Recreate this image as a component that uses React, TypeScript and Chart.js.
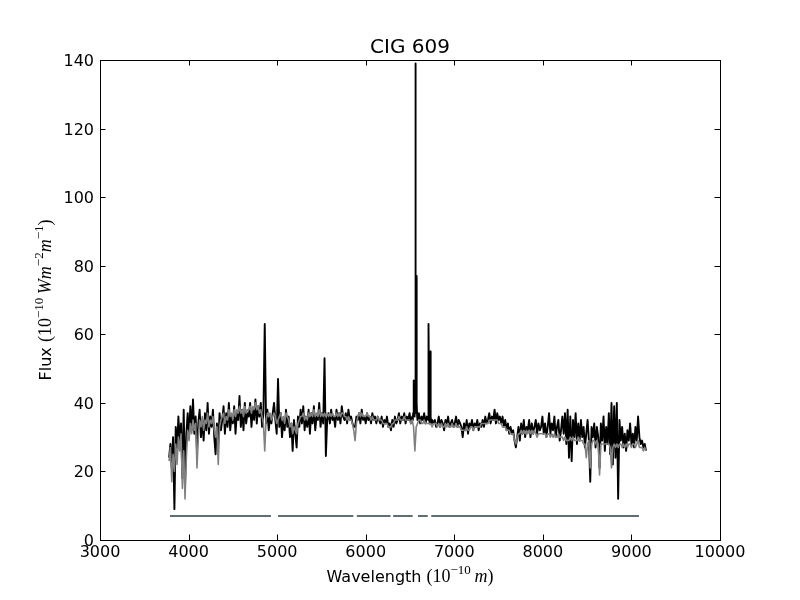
import { useRef, useEffect } from 'react';
import { Chart, registerables } from 'chart.js';

Chart.register(...registerables);

// sampling grid of the spectrum (Angstrom)
const waveStart = 3780;
const waveStep = 15;

// observed flux (black)
const observedFlux = [
  24, 28, 21, 30, 9, 33, 27, 36, 29, 34, 18, 38, 16, 31, 37, 30, 39, 32, 41, 31,
  36, 26, 34, 38, 30, 35, 29, 37, 32, 40, 31, 36, 33, 38, 30, 25, 34, 28, 37, 32,
  35, 39, 31, 37, 33, 40, 32, 36, 34, 39, 31, 37, 35, 42, 33, 38, 32, 40, 34, 37,
  36, 40, 33, 38, 35, 41, 34, 39, 36, 40, 33, 37, 63, 34, 38, 32, 36, 34, 37, 40,
  35, 31, 47, 33, 37, 30, 35, 32, 38, 33, 36, 30, 34, 26, 35, 31, 27, 36, 33, 38,
  34, 39, 32, 36, 33, 38, 31, 37, 34, 39, 32, 36, 35, 40, 33, 37, 34, 53, 24.5, 35,
  37, 34, 38, 35, 36, 33, 38, 35, 37, 34, 39, 36, 35, 37, 34, 38, 35, 36, 34, 33,
  33, 36, 35, 37, 34, 38, 35, 36, 34, 37, 35, 36, 34, 37, 35, 36, 34, 36, 35, 34,
  36, 33, 35, 34, 36, 33, 34, 32, 35, 33, 36, 34, 35, 37, 34, 36, 35, 37, 34, 36,
  35, 37, 34, 36, 46.5, 139, 77, 35, 37, 34, 36, 35, 37, 34, 36, 35, 63, 55, 35, 34,
  35, 33, 34, 36, 33, 35, 34, 32, 35, 34, 36, 33, 34, 35, 33, 34, 36, 33, 35, 34,
  33, 30, 34, 32, 35, 31, 34, 33, 35, 32, 34, 33, 35, 32, 34, 33, 35, 33, 36, 34,
  35, 37, 34, 36, 35, 38, 34, 37, 35, 36, 34, 36, 33, 35, 32, 34, 31, 33, 31, 32,
  29, 27, 30, 33, 29, 34, 31, 35, 30, 33, 32, 35, 30, 34, 31, 33, 35, 31, 34, 32,
  33, 36, 31, 34, 30, 33, 37, 31, 34, 32, 36, 30, 33, 35, 29, 32, 36, 31, 37, 28,
  38, 24, 36, 23, 35, 30, 37, 28, 34, 29, 35, 30, 33, 27, 31, 35, 29, 17, 33, 30,
  34, 27, 33, 30, 21, 34, 29, 36, 26, 33, 28, 37, 25, 40, 22, 39, 24, 40, 12, 35,
  29, 33, 27, 31, 26, 32, 29, 34, 28, 31, 27, 33, 29, 36, 30, 28, 29, 27, 28, 26,
];

// finer sampling around the H-alpha / [NII] and [SII] emission lines
const haWaves = [6530, 6533, 6536, 6539, 6542, 6545, 6548, 6551, 6554, 6557, 6560, 6563, 6566, 6569, 6572, 6575, 6578, 6581, 6584];
const haFlux = [36, 35, 37, 46.5, 44, 46, 40, 36, 38, 42, 139, 45, 37, 40, 77, 70, 40, 36, 35];
const siiWaves = [6706, 6709, 6712, 6715, 6718, 6721, 6724, 6727, 6730, 6733, 6736, 6739, 6742];
const siiFlux = [35, 37, 63, 40, 34, 36, 38, 55, 37, 35, 36, 34, 35];

// synthetic fit (grey)
const modelFlux = [
  23, 27, 17, 25, 20, 28, 22, 30, 26, 31, 15, 26, 12, 24, 32, 29, 34, 31, 35, 32,
  34, 21, 30, 35, 33, 36, 32, 35, 34, 37, 33, 35, 34, 36, 32, 30, 33, 22, 33, 35,
  36, 37, 34, 36, 35, 38, 36, 37, 35, 38, 36, 38, 37, 39, 37, 38, 36, 39, 37, 38,
  38, 39, 37, 39, 38, 40, 38, 39, 37, 38, 36, 34, 26, 35, 37, 36, 37, 35, 36, 37,
  36, 34, 35, 36, 37, 35, 36, 34, 37, 36, 35, 33, 34, 31, 33, 32, 31, 34, 35, 36,
  36, 37, 35, 36, 35, 37, 36, 37, 36, 38, 36, 37, 36, 38, 36, 37, 36, 37, 36, 37,
  36, 37, 36, 37, 36, 36, 37, 36, 37, 36, 37, 37, 36, 36, 35, 36, 35, 35, 34, 32,
  29, 34, 36, 37, 36, 37, 36, 36, 36, 37, 36, 36, 35, 36, 35, 35, 35, 36, 35, 35,
  35, 34, 34, 34, 34, 33, 33, 33, 34, 34, 35, 35, 35, 36, 35, 35, 35, 36, 35, 35,
  35, 35, 34, 35, 33, 26, 33, 34, 35, 35, 34, 34, 35, 34, 34, 34, 34, 34, 33, 34,
  34, 34, 33, 34, 33, 34, 33, 33, 34, 33, 34, 33, 33, 34, 33, 33, 34, 33, 33, 33,
  32, 32, 32, 32, 33, 32, 32, 33, 33, 32, 33, 33, 33, 33, 33, 34, 34, 34, 34, 34,
  34, 35, 35, 35, 35, 35, 35, 35, 34, 34, 34, 33, 33, 33, 32, 32, 32, 31, 31, 31,
  29, 28, 30, 31, 31, 32, 31, 32, 31, 32, 31, 32, 31, 32, 31, 32, 31, 30, 31, 31,
  31, 31, 31, 31, 30, 31, 31, 30, 31, 30, 31, 30, 30, 31, 30, 30, 30, 29, 30, 29,
  29, 29, 30, 29, 30, 29, 29, 29, 30, 29, 29, 29, 28, 28, 24, 28, 29, 21, 28, 29,
  29, 28, 29, 28, 19, 28, 28, 28, 28, 28, 28, 28, 27, 21, 27, 28, 27, 28, 27, 28,
  28, 27, 28, 27, 28, 27, 28, 28, 27, 28, 28, 27, 28, 29, 27, 27, 27, 26, 27, 26,
];

// fitted-region mask segments
const maskStarts = [3790, 5010, 5900, 6310, 6590, 6740];
const maskEnds = [4930, 5860, 6280, 6530, 6700, 9085];
const maskLevel = 7;

const xTicks = [3000, 4000, 5000, 6000, 7000, 8000, 9000, 10000];
const yTicks = [0, 20, 40, 60, 80, 100, 120, 140];

type Part = { t: string; font: string; dy?: number };

const SANS = '"DejaVu Sans", sans-serif';
const SERIF = '"Liberation Serif", "DejaVu Serif", serif';
const main = `18px ${SERIF}`;
const ital = `italic 18px ${SERIF}`;
const sup = `13px ${SERIF}`;
const raise = -8;

const xTitle: Part[] = [
  { t: 'Wavelength ', font: `16px ${SANS}` },
  { t: '(10', font: main },
  { t: '\u221210', font: sup, dy: raise },
  { t: '\u2009m', font: ital },
  { t: ')', font: main },
];

const yTitle: Part[] = [
  { t: 'Flux ', font: `16px ${SANS}` },
  { t: '(10', font: main },
  { t: '\u221210', font: sup, dy: raise },
  { t: '\u2009Wm', font: ital },
  { t: '\u22122', font: sup, dy: raise },
  { t: 'm', font: ital },
  { t: '\u22121', font: sup, dy: raise },
  { t: ')', font: main },
];

function drawParts(ctx: CanvasRenderingContext2D, parts: Part[], x: number, y: number) {
  const widths = parts.map((p) => {
    ctx.font = p.font;
    return ctx.measureText(p.t).width;
  });
  const total = widths.reduce((a, b) => a + b, 0);
  let cx = x - total / 2;
  ctx.textAlign = 'left';
  ctx.textBaseline = 'alphabetic';
  parts.forEach((p, i) => {
    ctx.font = p.font;
    ctx.fillText(p.t, cx, y + (p.dy || 0));
    cx += widths[i];
  });
}

// frame, inward ticks and all text, matplotlib style
const axesPlugin = {
  id: 'mplAxes',
  afterDraw(chart: any) {
    const { ctx, chartArea: a, scales } = chart;
    const xs = scales.x;
    const ys = scales.y;
    const tick = 5.5;
    ctx.save();
    ctx.strokeStyle = '#000';
    ctx.fillStyle = '#000';
    ctx.lineWidth = 1;

    ctx.strokeRect(a.left + 0.5, a.top + 0.5, a.right - a.left, a.bottom - a.top);

    ctx.beginPath();
    xTicks.forEach((v) => {
      const px = Math.round(xs.getPixelForValue(v)) + 0.5;
      ctx.moveTo(px, a.bottom);
      ctx.lineTo(px, a.bottom - tick);
      ctx.moveTo(px, a.top);
      ctx.lineTo(px, a.top + tick);
    });
    yTicks.forEach((v) => {
      const py = Math.round(ys.getPixelForValue(v)) + 0.5;
      ctx.moveTo(a.left, py);
      ctx.lineTo(a.left + tick, py);
      ctx.moveTo(a.right, py);
      ctx.lineTo(a.right - tick, py);
    });
    ctx.stroke();

    ctx.font = `16px ${SANS}`;
    ctx.textBaseline = 'alphabetic';
    ctx.textAlign = 'center';
    xTicks.forEach((v) => {
      ctx.fillText(String(v), xs.getPixelForValue(v), a.bottom + 17);
    });
    ctx.textAlign = 'right';
    yTicks.forEach((v) => {
      ctx.fillText(String(v), a.left - 6, ys.getPixelForValue(v) + 6);
    });

    ctx.font = `20px ${SANS}`;
    ctx.textAlign = 'center';
    ctx.fillText('CIG 609', (a.left + a.right) / 2, a.top - 7);

    drawParts(ctx, xTitle, (a.left + a.right) / 2, a.bottom + 42);

    ctx.translate(a.left - 49, (a.top + a.bottom) / 2);
    ctx.rotate(-Math.PI / 2);
    drawParts(ctx, yTitle, 0, 0);
    ctx.restore();
  },
};

const toPoints = (arr: number[]) => arr.map((y, i) => ({ x: waveStart + i * waveStep, y }));

// coarse grid, with the emission-line windows replaced by their finer samples
function observedPoints() {
  const windows: [number[], number[]][] = [
    [haWaves, haFlux],
    [siiWaves, siiFlux],
  ];
  const coarse = toPoints(observedFlux).filter(
    (p) => !windows.some(([w]) => p.x >= w[0] && p.x <= w[w.length - 1])
  );
  const fine = windows.flatMap(([w, f]) => w.map((x, i) => ({ x, y: f[i] })));
  return [...coarse, ...fine].sort((a, b) => a.x - b.x);
}

function maskPoints() {
  const pts: { x: number; y: number | null }[] = [];
  maskStarts.forEach((s, i) => {
    pts.push({ x: s, y: maskLevel });
    pts.push({ x: maskEnds[i], y: maskLevel });
    pts.push({ x: maskEnds[i], y: null });
  });
  return pts;
}

const App = () => {
  const canvasRef = useRef<HTMLCanvasElement | null>(null);
  const chartRef = useRef<Chart | null>(null);

  useEffect(() => {
    if (!canvasRef.current) return;
    if (chartRef.current) chartRef.current.destroy();

    const line = {
      pointRadius: 0,
      tension: 0,
      borderJoinStyle: 'round' as const,
      fill: false,
    };

    chartRef.current = new Chart(canvasRef.current, {
      type: 'line',
      data: {
        datasets: [
          { ...line, label: 'model', data: toPoints(modelFlux), borderColor: '#808080', borderWidth: 1.6, order: 0 },
          { ...line, label: 'observed', data: observedPoints(), borderColor: '#000000', borderWidth: 1.9, order: 1 },
          { ...line, label: 'mask', data: maskPoints(), borderColor: '#5f6e6e', borderWidth: 2.2, spanGaps: false, order: 2 },
        ],
      },
      options: {
        responsive: false,
        animation: false,
        events: [],
        layout: { padding: { left: 100, right: 80, top: 60, bottom: 60 } },
        plugins: {
          legend: { display: false },
          title: { display: false },
          tooltip: { enabled: false },
        },
        scales: {
          x: { type: 'linear', min: 3000, max: 10000, display: false },
          y: { type: 'linear', min: 0, max: 140, display: false },
        },
      },
      plugins: [axesPlugin],
    });

    return () => {
      if (chartRef.current) {
        chartRef.current.destroy();
        chartRef.current = null;
      }
    };
  }, []);

  return (
    <div style={{ position: 'absolute', left: 0, top: 0, width: 800, height: 600, background: '#fff' }}>
      <canvas ref={canvasRef} width={800} height={600} style={{ display: 'block' }} />
    </div>
  );
};

export default App;
